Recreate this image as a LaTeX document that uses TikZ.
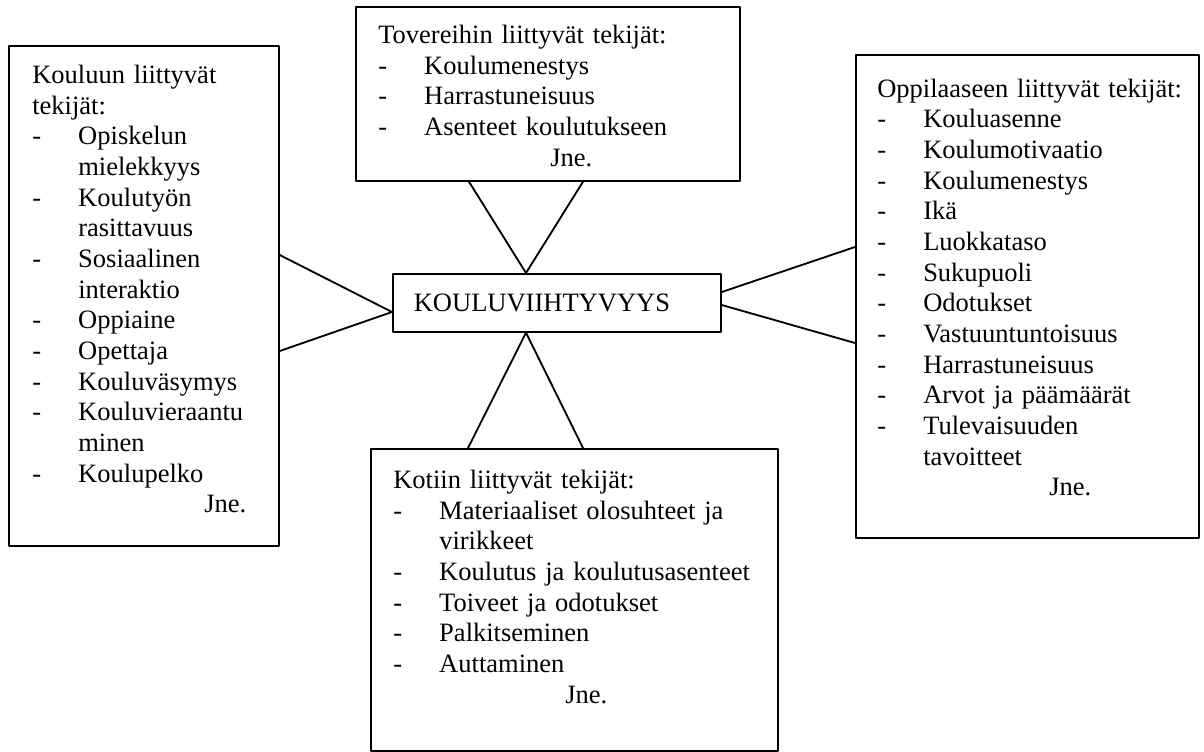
\documentclass[tikz,border=0pt]{standalone}
\usepackage{fontspec}
\setmainfont{Liberation Serif}
\newcommand\Kohta{\makebox[32.7pt][l]{-}}
\newcommand\Jatko{\hspace*{32.7pt}}
\newcommand\Jne{\hspace*{122.3pt}Jne.}

\begin{document}
\begin{tikzpicture}[x=0.025cm,y=-0.025cm,line join=round,
  laatikko/.style={draw,line width=1.2pt,inner sep=0pt,anchor=north west},
  teksti/.style={anchor=north west,inner sep=0pt,align=left,text width=9.5cm,
    font=\fontsize{18.85}{21.8}\selectfont},
  yhteys/.style={line width=1.3pt}]
\useasboundingbox (0,0) rectangle (1204,751);
\node[laatikko,minimum width=6.75cm,minimum height=12.5cm] (koulu) at (8,45) {};
\node[laatikko,minimum width=9.6cm,minimum height=4.35cm] (tove) at (355,6) {};
\node[laatikko,minimum width=8.575cm,minimum height=12.075cm] (oppilas) at (855,54) {};
\node[laatikko,minimum width=10.175cm,minimum height=7.55cm] (koti) at (370,448) {};
\node[laatikko,minimum width=8.2cm,minimum height=1.45cm,inner xsep=0.525cm,
  text width=7.15cm,align=left,font=\fontsize{18.85}{21.8}\selectfont]
  (keski) at (392,273) {KOULUVIIHTYVYYS};

\node[teksti] (koulu-t) at ([shift={(24,20)}]koulu.north west)
  {Kouluun liittyvät\\ tekijät:\\
   \Kohta Opiskelun\\ \Jatko mielekkyys\\
   \Kohta Koulutyön\\ \Jatko rasittavuus\\
   \Kohta Sosiaalinen\\ \Jatko interaktio\\
   \Kohta Oppiaine\\
   \Kohta Opettaja\\
   \Kohta Kouluväsymys\\
   \Kohta Kouluvieraantu\\ \Jatko minen\\
   \Kohta Koulupelko\\
   \Jne};
\node[teksti] (tove-t) at ([shift={(23,19)}]tove.north west)
  {Tovereihin liittyvät tekijät:\\
   \Kohta Koulumenestys\\
   \Kohta Harrastuneisuus\\
   \Kohta Asenteet koulutukseen\\
   \Jne};
\node[teksti] (oppilas-t) at ([shift={(22,24.5)}]oppilas.north west)
  {Oppilaaseen liittyvät tekijät:\\
   \Kohta Kouluasenne\\
   \Kohta Koulumotivaatio\\
   \Kohta Koulumenestys\\
   \Kohta Ikä\\
   \Kohta Luokkataso\\
   \Kohta Sukupuoli\\
   \Kohta Odotukset\\
   \Kohta Vastuuntuntoisuus\\
   \Kohta Harrastuneisuus\\
   \Kohta Arvot ja päämäärät\\
   \Kohta Tulevaisuuden\\ \Jatko tavoitteet\\
   \Jne};
\node[teksti] (koti-t) at ([shift={(23,22)}]koti.north west)
  {Kotiin liittyvät tekijät:\\
   \Kohta Materiaaliset olosuhteet ja\\ \Jatko virikkeet\\
   \Kohta Koulutus ja koulutusasenteet\\
   \Kohta Toiveet ja odotukset\\
   \Kohta Palkitseminen\\
   \Kohta Auttaminen\\
   \Jne};

\draw[yhteys] (469,0 |- tove.south) -- (526,0 |- keski.north) -- (583,0 |- tove.south);
\draw[yhteys] (koulu.east |- 0,255) -- (keski.west |- 0,312) -- (koulu.east |- 0,351);
\draw[yhteys] (oppilas.west |- 0,247) -- (keski.east |- 0,292);
\draw[yhteys] (keski.east |- 0,305) -- (oppilas.west |- 0,343);
\draw[yhteys] (468,0 |- koti.north) -- (526,0 |- keski.south) -- (583,0 |- koti.north);
\end{tikzpicture}
\end{document}
